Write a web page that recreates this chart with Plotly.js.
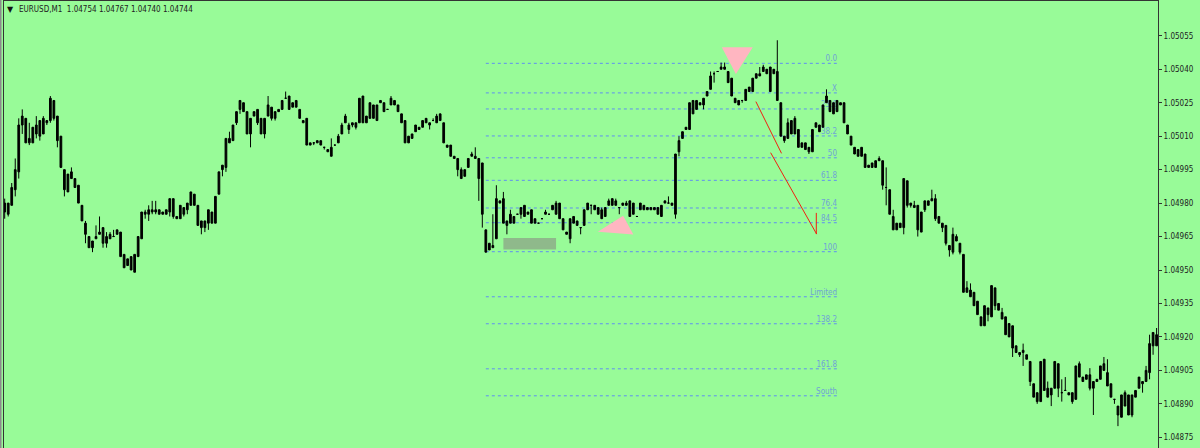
<!DOCTYPE html>
<html><head><meta charset="utf-8">
<script src="https://cdn.plot.ly/plotly-3.0.0.min.js"></script>
<style>html,body{margin:0;padding:0;background:#98FB98;overflow:hidden}</style>
</head><body><div id="chart" style="width:1200px;height:448px"></div>
<script>
// Prices are in points above 1.04000. Both candle directions are drawn black in the
// picture, so the bodies are recorded as their upper and lower edge.
const basePrice = 1.04;
const highs = [
982,980,989,1000,1018,1022,1018,1016,1014,1019,
1017,1019,1017,1028,1026,1019,1010,995,993,996,
991,988,979,972,965,963,970,974,969,967,
967,968,968,967,957,955,956,957,965,976,
977,979,981,981,977,976,977,982,982,974,
979,978,980,985,984,979,972,972,977,976,
983,994,997,1009,1012,1015,1021,1026,1025,1021,
1018,1021,1022,1018,1018,1028,1023,1021,1022,1026,
1030,1028,1025,1026,1022,1017,1018,1007,1007,1008,
1008,1005,1004,1009,1006,1011,1016,1020,1016,1016,
1016,1027,1028,1019,1025,1024,1024,1026,1025,1022,
1028,1026,1024,1020,1017,1010,1011,1015,1014,1017,
1018,1016,1018,1020,1020,1016,1006,1006,1001,1000,
996,995,1000,1003,1005,1000,998,968,962,975,
988,981,985,972,977,974,975,978,979,976,
977,973,971,973,977,975,979,981,980,973,
967,973,974,972,969,977,980,979,979,978,
978,978,982,982,982,978,980,981,981,980,
974,980,979,978,978,978,978,979,981,983,
980,1002,1010,1012,1014,1025,1026,1026,1025,1027,
1030,1039,1039,1039,1043,1043,1039,1036,1027,1026,
1026,1031,1032,1036,1038,1041,1042,1040,1041,1040,
1053,1025,1010,1018,1017,1019,1013,1007,1007,1005,
1013,1016,1015,1024,1031,1026,1025,1026,1025,1025,
1015,1010,1005,1004,1005,1002,997,998,999,1001,
999,996,986,977,971,971,991,990,980,981,
979,976,981,981,986,984,974,971,970,961,
969,966,962,957,945,944,940,936,929,934,
933,943,942,935,933,929,926,925,916,913,
917,912,909,899,895,909,910,900,897,909,
908,901,902,895,895,907,909,902,903,906,
900,901,907,911,910,899,892,889,894,896,
894,894,896,902,900,907,921,922,924];
const bodyTops = [
980,980,987,995,1015,1019,1018,1009,1014,1015,
1017,1018,1017,1027,1026,1019,1010,995,993,994,
991,988,979,971,965,963,965,967,969,965,
966,965,968,967,957,955,956,957,965,976,
976,977,977,977,977,976,977,982,982,974,
979,978,980,985,984,979,972,972,977,976,
983,994,997,1009,1009,1015,1021,1026,1025,1021,
1018,1021,1022,1018,1018,1024,1023,1021,1022,1026,
1027,1028,1025,1026,1022,1017,1018,1007,1007,1008,
1008,1005,1004,1005,1006,1010,1015,1019,1015,1016,
1016,1027,1028,1019,1025,1024,1024,1026,1025,1022,
1027,1026,1024,1020,1017,1010,1011,1015,1014,1017,
1018,1016,1017,1019,1020,1016,1006,1006,1001,1000,
995,995,1000,1002,1001,1000,998,968,962,961,
982,981,982,972,975,974,975,978,979,976,
977,973,971,973,976,975,979,980,980,973,
967,973,974,972,969,977,980,979,979,978,
977,978,981,982,981,978,980,980,981,980,
974,980,979,978,978,978,978,979,981,980,
980,1002,1008,1012,1014,1025,1026,1026,1025,1027,
1030,1037,1038,1039,1041,1041,1039,1036,1027,1026,
1026,1031,1032,1036,1038,1038,1041,1040,1041,1040,
1039,1025,1010,1016,1017,1018,1013,1007,1007,1005,
1013,1016,1015,1024,1028,1026,1025,1026,1025,1025,
1015,1010,1005,1004,1005,1002,997,998,999,1000,
999,987,986,974,971,971,991,990,980,979,
979,976,981,981,982,982,974,971,970,961,
966,965,962,957,942,941,940,936,929,934,
933,943,942,935,931,929,926,925,916,913,
914,912,909,899,895,909,910,897,897,909,
908,895,896,895,895,907,908,902,903,903,
900,901,907,908,904,899,892,889,894,895,
894,894,896,902,900,905,917,922,921];
const bodyBottoms = [
976,975,979,986,994,1015,1007,1007,1007,1011,
1010,1011,1016,1017,1018,1008,996,986,985,991,
987,980,972,966,960,960,964,966,962,962,
964,965,966,956,951,952,950,949,956,964,
975,975,976,976,975,975,975,976,974,973,
973,975,977,979,979,970,969,969,971,971,
971,984,995,996,1007,1008,1016,1022,1021,1011,
1011,1019,1016,1011,1011,1019,1018,1018,1021,1022,
1027,1022,1023,1023,1018,1016,1006,1006,1007,1007,
1006,1005,1003,1001,1006,1007,1011,1016,1013,1015,
1014,1016,1016,1016,1018,1018,1017,1025,1021,1022,
1024,1024,1021,1016,1007,1007,1009,1012,1013,1014,
1016,1015,1017,1016,1017,1007,1005,1001,1000,995,
991,992,996,1001,1000,991,975,958,959,960,
964,980,971,970,971,971,975,975,974,975,
971,971,971,973,975,975,977,975,973,968,
966,964,971,970,969,970,977,979,977,975,
973,974,979,979,979,978,979,979,974,975,
974,977,977,977,977,977,975,974,980,980,
979,975,1003,1009,1013,1013,1020,1022,1024,1024,
1028,1031,1038,1039,1040,1040,1034,1028,1025,1024,
1026,1026,1030,1030,1036,1037,1039,1038,1030,1038,
1026,1010,1008,1009,1011,1011,1005,1005,1004,1003,
1003,1014,1012,1014,1025,1021,1020,1021,1024,1016,
1011,1006,1002,1001,1001,996,996,996,996,999,
988,987,975,968,968,969,969,979,979,978,
968,967,977,979,981,973,971,969,962,959,
958,963,958,940,940,938,934,930,925,925,
930,929,934,932,928,921,920,915,913,912,
913,910,900,893,891,891,896,893,894,897,
897,895,896,894,891,892,902,900,901,897,
897,900,901,905,898,893,892,885,884,889,
885,885,893,897,899,900,904,916,916];
const lows = [
973,974,979,983,991,1011,1007,1006,1007,1009,
1008,1011,1015,1016,1017,1005,996,983,985,991,
987,980,972,962,960,958,964,966,960,960,
964,965,966,956,951,952,950,949,956,964,
973,972,975,975,975,975,975,974,973,973,
973,974,975,979,979,970,966,967,968,971,
971,984,992,994,1007,1008,1015,1020,1021,1011,
1005,1019,1015,1011,1009,1019,1017,1017,1021,1022,
1027,1022,1023,1023,1018,1016,1006,1006,1006,1007,
1006,1004,1003,1001,1006,1007,1011,1016,1011,1014,
1013,1016,1016,1016,1018,1018,1017,1025,1021,1022,
1024,1024,1021,1016,1007,1007,1009,1012,1013,1014,
1016,1013,1017,1016,1017,1007,1005,1001,1000,992,
991,992,996,1001,1000,981,969,958,959,960,
964,980,971,966,971,971,975,973,974,975,
971,971,971,973,975,975,977,975,973,968,
966,962,971,970,966,970,977,975,977,975,
973,974,979,979,979,975,979,979,974,975,
974,977,977,977,977,977,975,974,980,980,
979,973,1001,1009,1013,1013,1020,1022,1024,1022,
1028,1031,1034,1039,1040,1040,1034,1028,1025,1024,
1025,1026,1030,1030,1036,1037,1039,1038,1030,1038,
1026,1010,1007,1009,1011,1011,1005,1005,1004,1002,
1003,1014,1012,1014,1025,1021,1020,1021,1024,1016,
1011,1006,1002,1001,1001,996,996,996,996,999,
986,979,975,968,968,969,966,978,978,978,
965,967,976,979,981,972,971,967,961,956,
957,963,957,940,940,938,934,930,925,925,
927,929,932,932,928,921,920,911,913,911,
907,910,898,893,890,891,896,893,889,897,
893,891,896,894,890,892,902,900,901,896,
885,900,901,905,898,893,890,880,884,889,
885,884,893,897,895,900,901,912,916];

const yTicks = [875,890,905,920,935,950,965,980,995,1010,1025,1040,1055];
const yRange = [870.2,1070.6];
const xRange = [-0.2,328.4];
const chartTitle = "EURUSD,M1\u00a0\u00a01.04754 1.04767 1.04740 1.04744";

const fibLevels = [1042.65,1029.4,1022.2,1010.1,1000.3,990.2,977.8,971.2,958.2,938,925.9,905.7,893.6];
const fibLabels = ["0.0","X","23.6","38.2","50","61.8","76.4","84.5","100","Limited","138.2","161.8","South"];
const fibStart = 137, fibEnd = 237;
const lastFibLabel = "Fast", lastFibLabelBar = 237, lastFibLabelLevel = 870.8;

const triUpperBars = [204.2,213,208.2], triUpperLevels = [1049.9,1049.9,1037.9];
const triLowerBars = [168.9,176.1,179], triLowerLevels = [967.1,974.3,965.9];
const zoneBars = [142,157], zoneLevels = [959.2,964.4];
const redBars = [[213.9,221.2],[218.1,231.2],[231.1,231.1]];
const redLevels = [[1025.5,1002.3],[1002.6,966.1],[975.6,966.1]];

const price = p => basePrice + p/1e5;
const bars = highs.map((_,i)=>i);
const FONT = "DejaVu Sans Condensed, DejaVu Sans, sans-serif";
const W = 1200, ML = 4, MR = 42, PW = W-ML-MR;
const paperX = px => (px-ML)/PW;

const tri = (xs,ys) => ({type:'path', layer:'below', xref:'x', yref:'y', line:{width:0}, fillcolor:'#FFB6C1',
  path:'M '+xs.map((x,i)=>x+' '+price(ys[i])).join(' L ')+' Z'});

const shapes = [
  ...fibLevels.map((lv,i)=>({type:'line', layer:'below', xref:'x', yref:'y', x0:fibStart, x1:fibEnd, y0:price(lv), y1:price(lv),
    line:{color:'#5F8FF0', width:1, dash:'3px,3px'},
    label:{text:fibLabels[i], textposition:'end', xanchor:'right', yanchor:'bottom', padding:1, font:{family:FONT,size:8,color:'#6FA3D6'}}})),
  {type:'rect', layer:'below', xref:'x', yref:'y', x0:zoneBars[0], x1:zoneBars[1], y0:price(zoneLevels[0]), y1:price(zoneLevels[1]), fillcolor:'#8FB98B', line:{width:0}},
  tri(triUpperBars,triUpperLevels), tri(triLowerBars,triLowerLevels),
  ...redBars.map((b,i)=>({type:'line', layer:'above', xref:'x', yref:'y', x0:b[0], x1:b[1], y0:price(redLevels[i][0]), y1:price(redLevels[i][1]), line:{color:'#F02010', width:1}})),
  {type:'rect', xref:'paper', yref:'paper', x0:paperX(0), x1:paperX(1.5), y0:0, y1:1.01, fillcolor:'#8C8C8C', line:{width:0}}
];

const trace = {type:'candlestick', x:bars, open:bodyBottoms.map(price), high:highs.map(price), low:lows.map(price), close:bodyTops.map(price),
  increasing:{line:{color:'#000',width:1},fillcolor:'#000'}, decreasing:{line:{color:'#000',width:1},fillcolor:'#000'},
  whiskerwidth:0, hoverinfo:'skip', showlegend:false};

const layout = {
  width:W, height:448, margin:{l:ML,r:MR,t:1,b:0,pad:0}, paper_bgcolor:'#98FB98', plot_bgcolor:'#98FB98', showlegend:false,
  xaxis:{type:'linear', range:xRange, side:'top', showgrid:false, zeroline:false, showticklabels:false, ticks:'', showline:true, linecolor:'#333', linewidth:1, rangeslider:{visible:false}, fixedrange:true},
  yaxis:{type:'linear', range:yRange.map(price), side:'right', showgrid:false, zeroline:false, tickmode:'array', tickvals:yTicks.map(price), ticktext:yTicks.map(p=>price(p).toFixed(5)),
    ticks:'outside', ticklen:3, tickwidth:1, tickcolor:'#333', showline:true, mirror:true, linecolor:'#333', linewidth:1,
    tickfont:{family:FONT,size:8,color:'#222'}, fixedrange:true},
  shapes,
  annotations:[
    {xref:'paper', yref:'paper', x:paperX(17), y:1-8/447, xanchor:'left', yanchor:'middle', text:chartTitle, showarrow:false, font:{family:FONT,size:8,color:'#222'}},
    {xref:'paper', yref:'paper', x:paperX(10), y:1-8/447, xanchor:'center', yanchor:'middle', text:'\u25BC', showarrow:false, font:{family:'DejaVu Sans',size:8,color:'#111'}},
    {xref:'x', yref:'y', x:lastFibLabelBar, y:price(lastFibLabelLevel), xanchor:'right', yanchor:'top', text:lastFibLabel, showarrow:false, font:{family:FONT,size:8,color:'#6FA3D6'}}
  ]
};
Plotly.newPlot('chart',[trace],layout,{displayModeBar:false,staticPlot:true});
</script></body></html>
